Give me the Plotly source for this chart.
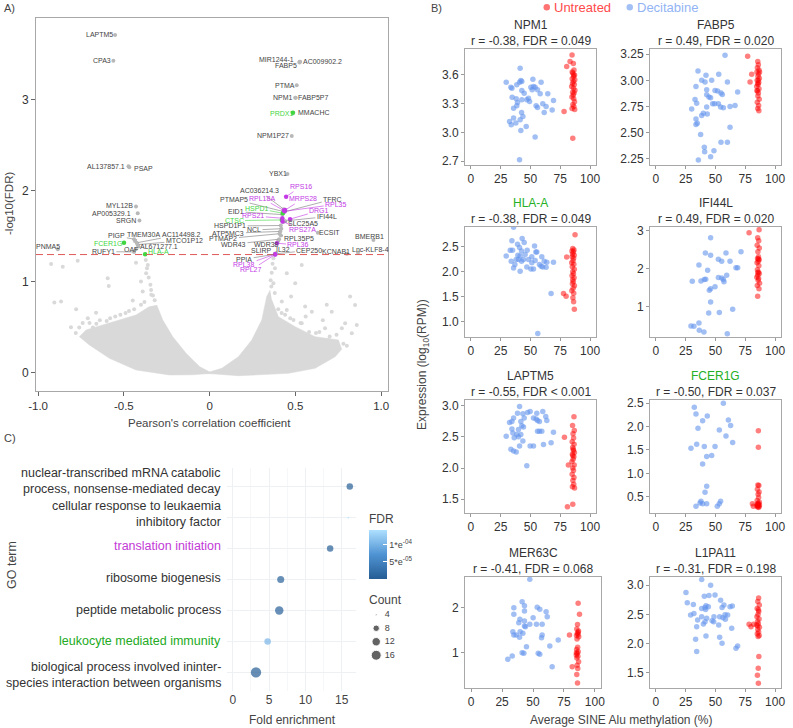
import plotly.graph_objects as go

FONT = "Liberation Sans, Arial, sans-serif"
W, H = 793, 728


def fx(X):
    return X / W


def fy(Y):
    return 1 - Y / H


# ============ Panel A data (volcano) ============
# outline of the dense part of the point cloud
A_LEFT_LOBE_R = [-0.308, -0.273, -0.215, -0.137, -0.059, 0.015, -0.10, -0.234, -0.429, -0.584, -0.701, -0.759,
                 -0.72, -0.623, -0.526, -0.429, -0.351]
A_LEFT_LOBE_Y = [0.747, 0.582, 0.399, 0.216, 0.07, -0.004, -0.02, -0.022, 0.033, 0.161, 0.308, 0.399,
                 0.473, 0.527, 0.582, 0.637, 0.729]
A_RIGHT_LOBE_R = [0.353, 0.333, 0.304, 0.246, 0.168, 0.071, -0.026, 0.168, 0.46, 0.615, 0.732, 0.77,
                  0.751, 0.615, 0.499, 0.401, 0.363]
A_RIGHT_LOBE_Y = [0.912, 0.839, 0.582, 0.363, 0.179, 0.051, -0.004, -0.03, -0.004, 0.051, 0.179, 0.26,
                  0.363, 0.399, 0.509, 0.619, 0.802]
# sparse individual points
A_SCAT_R = [-0.924, -0.856, -0.769, -0.905, -0.866, -0.778, -0.808, -0.662, -0.71, -0.594, -0.588, -0.448,
            -0.37, -0.40, -0.341, -0.39, -0.429, -0.36, -0.565, -0.506, -0.623, -0.33, -0.345, -0.355,
            -0.365, -0.372, -0.74, -0.68, -0.55, -0.47, -0.40, -0.32, -0.78, -0.76, -0.70, -0.64, -0.60,
            -0.52, -0.49, -0.44, -0.38, -0.34, -0.66, -0.58,
            0.537, 0.45, 0.499, 0.372, 0.381, 0.475, 0.421, 0.557, 0.683, 0.819, 0.848, 0.712, 0.596, 0.79,
            0.858, 0.771, 0.673, 0.537, 0.489, 0.829, 0.45, 0.356, 0.362, 0.367, 0.372, 0.36, 0.40, 0.44,
            0.58, 0.70, 0.66, 0.56, 0.78, 0.74, 0.64, 0.53, 0.47, 0.42, 0.38, 0.62, 0.69, 0.80]
A_SCAT_Y = [1.198, 1.168, 1.234, 0.773, 0.784, 0.70, 0.502, 0.663, 0.601, 1.04, 0.956, 0.795,
            1.095, 1.004, 0.912, 0.894, 1.212, 1.187, 0.509, 0.564, 0.418, 0.85, 0.97, 1.05,
            1.15, 1.24, 0.55, 0.50, 0.62, 0.68, 0.75, 0.80, 0.44, 0.50, 0.55, 0.58, 0.57,
            0.64, 0.66, 0.70, 0.78, 0.86, 0.54, 0.60,
            1.187, 1.095, 0.985, 0.985, 1.15, 0.839, 0.784, 0.729, 0.75, 0.839, 0.747, 0.674, 0.674, 0.546,
            0.527, 0.491, 0.491, 0.546, 0.582, 0.436, 0.692, 1.02, 1.1, 1.2, 1.26, 0.95, 0.70, 0.64,
            0.45, 0.40, 0.58, 0.62, 0.32, 0.42, 0.45, 0.55, 0.60, 0.66, 0.88, 0.44, 0.36, 0.30]

A_GENES = ["LAPTM5", "CPA3", "MIR1244-1", "FABP5", "AC009902.2", "PTMA", "NPM1", "FABP5P7", "PRDX1", "MMACHC",
           "NPM1P27", "AL137857.1", "PSAP", "YBX1", "MYL12B", "AP005329.1", "SRGN", "PIGP", "FCER1G", "TMEM30A",
           "AC114498.2", "MTCO1P12", "AL671277.1", "OAF", "RUFY1", "HLA-A", "PNMA5",
           "RPS16", "AC036214.3", "RPL18A", "PTMAP5", "MRPS28", "TFRC", "RPL35", "HSPD1", "DRG1", "EID1",
           "RPS21", "IFI44L", "CTSC", "SLC25A5", "HSPD1P1", "NCL", "RPS27A", "ECSIT", "ATP5MC3", "RPL35P5",
           "PTMAP2", "WDR43", "WDR38", "RPL36", "BMERB1", "SLIRP", "IL32", "CEP250", "KCNAB1", "Lnc-KLF8-4",
           "PPIA", "RPL38", "RPL27"]
A_R = [-0.551, -0.561, 0.524, 0.524, 0.528, 0.508, 0.499, 0.502, 0.485, 0.488,
       0.479, -0.473, -0.468, 0.454, -0.429, -0.419, -0.409, -0.44, -0.499, -0.435,
       -0.425, -0.42, -0.415, -0.43, -0.44, -0.376, -0.885,
       0.446, 0.432, 0.434, 0.428, 0.44, 0.436, 0.438, 0.427, 0.469, 0.424,
       0.424, 0.44, 0.421, 0.43, 0.415, 0.418, 0.425, 0.631, 0.412, 0.415,
       0.408, 0.405, 0.40, 0.392, 0.955, 0.384, 0.386, 0.39, 0.80, 0.865,
       0.382, 0.382, 0.382]
A_LOGFDR = [3.714, 3.43, 3.42, 3.41, 3.42, 3.16, 3.025, 3.025, 2.86, 2.86,
            2.604, 2.27, 2.26, 2.187, 1.828, 1.755, 1.674, 1.47, 1.432, 1.45,
            1.43, 1.41, 1.39, 1.36, 1.33, 1.304, 1.36,
            1.937, 1.80, 1.784, 1.775, 1.79, 1.77, 1.776, 1.755, 1.69, 1.74,
            1.70, 1.67, 1.681, 1.66, 1.62, 1.585, 1.665, 1.542, 1.555, 1.51,
            1.53, 1.47, 1.45, 1.425, 1.46, 1.31, 1.315, 1.31, 1.31, 1.32,
            1.305, 1.304, 1.302]
# T = translation initiation genes, I = leukocyte immunity genes, O = other
A_GROUP = ["O", "O", "O", "O", "O", "O", "O", "O", "I", "O",
           "O", "O", "O", "O", "O", "O", "O", "O", "I", "O",
           "O", "O", "O", "O", "O", "I", "O",
           "T", "O", "T", "O", "T", "O", "T", "I", "T", "O",
           "T", "O", "I", "O", "O", "O", "T", "O", "O", "O",
           "O", "O", "O", "T", "O", "O", "O", "O", "O", "O",
           "O", "T", "T"]
A_SIG_LINE = 1.301  # -log10(0.05)

# label placement (layout, not data): label centre and whether a connector is drawn
A_LABEL_POS = [(-0.643, 3.714, 0), (-0.629, 3.43, 0), (0.388, 3.447, 0), (0.446, 3.374, 0), (0.66, 3.42, 0),
               (0.44, 3.16, 0), (0.427, 3.025, 0), (0.602, 3.025, 0), (0.421, 2.853, 0), (0.609, 2.86, 0),
               (0.372, 2.604, 0), (-0.603, 2.267, 0), (-0.386, 2.242, 0), (0.401, 2.187, 0), (-0.526, 1.839, 0),
               (-0.57, 1.755, 0), (-0.487, 1.674, 0), (-0.541, 1.505, 1), (-0.59, 1.425, 0), (-0.386, 1.524, 1),
               (-0.162, 1.524, 1), (-0.147, 1.454, 1), (-0.293, 1.388, 1), (-0.459, 1.359, 1), (-0.619, 1.333, 1),
               (-0.299, 1.333, 0), (-0.94, 1.395, 0),
               (0.532, 2.047, 1), (0.29, 2.0, 1), (0.304, 1.92, 1), (0.143, 1.909, 1), (0.543, 1.912, 1),
               (0.718, 1.909, 1), (0.738, 1.854, 1), (0.275, 1.81, 1), (0.64, 1.784, 1), (0.155, 1.773, 1),
               (0.255, 1.725, 1), (0.683, 1.718, 1), (0.143, 1.674, 1), (0.547, 1.645, 1), (0.12, 1.615, 1),
               (0.259, 1.571, 1), (0.543, 1.571, 1), (0.699, 1.542, 0), (0.11, 1.535, 1), (0.524, 1.48, 1),
               (0.081, 1.473, 1), (0.139, 1.414, 1), (0.329, 1.414, 1), (0.518, 1.407, 1), (0.932, 1.498, 0),
               (0.304, 1.341, 1), (0.427, 1.352, 1), (0.582, 1.348, 1), (0.738, 1.333, 1), (0.936, 1.352, 0),
               (0.201, 1.249, 1), (0.201, 1.187, 1), (0.242, 1.132, 1)]

# ============ Panel B data ============
NPM1_DEC_X = [29.6, 33.5, 34.4, 40.8, 41.9, 42.7, 41.3, 52.0, 53.9, 55.9, 50.3, 58.9, 34.6, 38.0, 38.5, 35.8, 39.1,
              42.7, 44.7, 46.9, 49.2, 54.7, 55.9, 60.3, 61.5, 63.1, 64.5, 68.2, 69.3, 58.1, 42.5, 43.6, 41.3, 35.8,
              32.4, 33.8, 37.7, 41.9, 46.4, 53.9, 40.8, 48.3, 51.4, 42.7, 38.5, 52.5]
NPM1_DEC_Y = [3.524, 3.472, 3.461, 3.524, 3.541, 3.531, 3.669, 3.555, 3.472, 3.444, 3.472, 3.524, 3.367, 3.35, 3.277,
              3.253, 3.312, 3.34, 3.409, 3.34, 3.322, 3.277, 3.26, 3.298, 3.208, 3.27, 3.402, 3.235, 3.333, 3.402,
              3.208, 3.166, 3.131, 3.149, 3.114, 3.079, 3.097, 3.02, 3.062, 2.951, 2.715, 3.357, 3.444, 3.437,
              3.496, 3.478]
NPM1_UNT_X = [84.9, 83.2, 80.4, 86.0, 86.5, 85.5, 87.0, 86.2, 85.0, 87.2, 86.0, 85.3, 86.8, 84.6, 86.1, 87.3, 85.4,
              86.6, 85.9, 84.8, 86.3, 87.0, 85.6, 86.4, 84.9, 87.1, 78.2, 85.5, 86.2, 85.0]
NPM1_UNT_Y = [3.808, 3.739, 3.687, 3.72, 3.65, 3.62, 3.60, 3.58, 3.56, 3.55, 3.53, 3.51, 3.50, 3.48, 3.46, 3.44, 3.42,
              3.41, 3.39, 3.37, 3.35, 3.32, 3.29, 3.27, 3.25, 3.24, 3.218, 2.94, 3.60, 3.63]

FABP5_DEC_X = [58.0, 35.3, 42.0, 38.4, 33.6, 46.8, 52.7, 60.0, 41.2, 42.6, 49.6, 51.8, 54.6, 55.7, 68.6, 42.6, 45.9,
               32.8, 34.2, 30.0, 42.6, 52.4, 54.3, 56.6, 62.2, 66.4, 47.6, 49.3, 39.8, 38.4, 43.1, 33.6, 33.6, 34.7,
               62.2, 37.5, 54.6, 60.0, 40.6, 40.9, 48.7, 45.9, 35.6, 44.5]
FABP5_DEC_Y = [3.24, 3.09, 3.048, 3.0, 2.942, 3.0, 3.058, 2.984, 2.984, 2.91, 2.904, 2.897, 2.878, 2.865, 2.888, 2.862,
               2.833, 2.817, 2.782, 2.727, 2.744, 2.776, 2.744, 2.737, 2.75, 2.76, 2.776, 2.776, 2.686, 2.663, 2.679,
               2.631, 2.577, 2.59, 2.551, 2.481, 2.407, 2.407, 2.359, 2.317, 2.327, 2.269, 2.237, 2.84]
FABP5_UNT_X = [85.5, 86.0, 85.2, 86.5, 84.8, 86.2, 85.6, 86.8, 85.0, 86.3, 85.8, 84.6, 86.5, 85.3, 86.0, 85.6, 86.7,
               85.1, 86.2, 85.5, 86.4, 84.8, 87.0, 77.0, 80.4, 79.0, 86.0, 85.4]
FABP5_UNT_Y = [3.18, 3.15, 3.12, 3.10, 3.08, 3.06, 3.04, 3.02, 3.00, 2.98, 2.96, 2.94, 2.92, 2.90, 2.88, 2.85, 2.82,
               2.79, 2.76, 2.73, 2.71, 2.90, 3.08, 3.23, 3.058, 2.984, 3.00, 2.97]

HLAA_DEC_X = [35.8, 34.4, 29.6, 33.0, 34.9, 39.1, 40.8, 43.0, 44.7, 42.5, 47.2, 53.4, 54.5, 55.3, 41.3, 40.0, 36.9,
              42.5, 44.1, 48.3, 51.1, 51.1, 53.9, 59.5, 61.5, 63.7, 69.3, 33.8, 35.8, 41.3, 50.3, 52.5, 57.5, 58.9,
              63.1, 60.3, 46.9, 38.0, 39.4, 67.3, 56.1, 45.5]
HLAA_DEC_Y = [2.895, 2.623, 2.316, 2.432, 2.432, 2.555, 2.486, 2.67, 2.589, 2.418, 2.432, 2.52, 2.398, 2.398, 2.316,
              2.248, 2.145, 2.214, 2.248, 2.248, 2.302, 2.18, 2.227, 2.302, 2.214, 2.193, 2.193, 2.214, 2.077, 2.009,
              2.057, 2.057, 2.145, 2.111, 2.091, 2.098, 2.098, 2.248, 2.33, 1.566, 0.762, 2.35]
HLAA_UNT_X = [85.5, 86.5, 84.8, 86.0, 85.3, 86.7, 85.0, 86.2, 85.7, 84.6, 86.4, 85.1, 86.8, 85.5, 86.1, 84.9, 86.6,
              85.4, 86.0, 85.2, 86.9, 85.8, 84.7, 86.3, 85.6, 86.2, 86.8, 87.4, 80.4, 77.7, 79.9]
HLAA_UNT_Y = [2.47, 2.44, 2.42, 2.40, 2.36, 2.33, 2.30, 2.27, 2.22, 2.18, 2.15, 2.10, 2.05, 2.00, 1.96, 1.92, 1.88,
              1.84, 1.80, 1.76, 1.72, 1.67, 1.62, 1.57, 1.48, 1.40, 1.25, 2.745, 2.296, 1.566, 1.511]

IFI44L_DEC_X = [45.9, 41.5, 45.9, 71.4, 58.8, 52.4, 55.2, 62.2, 36.1, 43.4, 67.2, 68.6, 41.8, 40.6, 37.8, 30.5, 52.4,
                55.2, 56.6, 57.1, 59.4, 49.6, 45.9, 44.8, 45.9, 44.3, 53.2, 64.4, 31.9, 36.1, 36.4, 40.3, 59.9, 29.4]
IFI44L_DEC_Y = [2.82, 2.42, 2.36, 2.45, 2.42, 2.25, 2.20, 2.20, 2.10, 1.965, 2.03, 2.03, 1.73, 1.72, 1.68, 1.675, 1.77,
                1.76, 1.72, 1.66, 1.83, 1.53, 1.48, 1.44, 1.13, 0.842, 0.851, 0.939, 0.491, 0.579, 0.386, 0.342,
                0.298, 0.50]
IFI44L_UNT_X = [86.6, 85.4, 86.3, 85.0, 86.8, 85.6, 86.1, 85.3, 86.7, 85.9, 84.9, 86.4, 85.2, 86.0, 86.8, 85.5, 84.7,
                86.2, 85.8, 87.0, 85.1, 86.5, 85.4, 78.2, 86.0, 85.6]
IFI44L_UNT_Y = [3.03, 2.82, 2.74, 2.62, 2.55, 2.45, 2.32, 2.27, 2.24, 2.20, 2.16, 2.08, 1.98, 1.92, 1.88, 1.83, 1.78,
                1.75, 1.70, 1.62, 1.56, 1.48, 1.28, 2.95, 2.26, 1.90]

LAPTM5_DEC_X = [40.8, 29.6, 32.4, 34.4, 35.8, 34.4, 35.2, 38.5, 39.9, 36.3, 33.5, 35.8, 38.0, 40.8, 43.6, 39.1, 43.6,
                44.7, 41.9, 42.7, 44.1, 47.5, 49.7, 52.5, 54.7, 55.9, 60.3, 55.3, 62.8, 63.7, 55.9, 57.5, 59.5, 69.3,
                60.9, 67.3, 49.7, 52.5, 46.9, 39.9, 41.9, 57.5]
LAPTM5_DEC_Y = [2.984, 2.51, 2.73, 2.747, 2.80, 2.626, 2.563, 2.537, 2.50, 2.484, 2.30, 2.274, 2.258, 2.353, 2.432,
                2.879, 2.868, 2.80, 2.747, 2.679, 2.658, 2.889, 2.905, 2.80, 2.784, 2.763, 2.905, 2.879, 2.826,
                2.763, 2.589, 2.589, 2.589, 2.574, 2.379, 2.405, 2.353, 2.353, 2.037, 2.616, 2.537, 2.747]
LAPTM5_UNT_X = [86.5, 85.3, 86.8, 85.7, 86.2, 85.0, 86.6, 85.4, 86.0, 86.9, 85.2, 86.4, 85.8, 84.8, 86.7, 85.5, 86.1,
                85.0, 86.5, 85.6, 86.3, 85.2, 87.0, 86.0, 85.5, 78.5, 81.8, 81.0, 85.5]
LAPTM5_UNT_Y = [2.82, 2.68, 2.60, 2.55, 2.48, 2.42, 2.38, 2.33, 2.28, 2.25, 2.22, 2.18, 2.14, 2.10, 2.05, 2.00, 1.96,
                1.90, 1.85, 1.80, 1.74, 1.70, 1.68, 2.30, 2.20, 2.495, 2.047, 1.379, 1.42]

FCER1G_DEC_X = [32.2, 33.6, 56.6, 39.2, 43.1, 35.3, 53.2, 60.8, 62.7, 58.8, 64.4, 29.4, 34.2, 40.6, 49.6, 42.6, 46.8,
                39.2, 42.6, 41.2, 37.8, 39.2, 42.6, 33.6, 53.2, 54.3, 51.5, 37.0]
FCER1G_DEC_Y = [2.415, 2.272, 2.50, 2.123, 2.23, 1.966, 1.93, 2.144, 2.023, 1.80, 1.66, 1.539, 1.625, 1.575, 1.575,
                1.361, 1.383, 1.197, 0.721, 0.593, 0.40, 0.35, 0.35, 0.294, 0.35, 0.40, 0.294, 0.365]
FCER1G_UNT_X = [86.0, 86.0, 85.6, 86.4, 85.2, 86.6, 85.8, 86.2, 85.0, 86.8, 85.4, 86.1, 85.7, 84.8, 86.5, 85.3, 86.9,
                81.0, 81.8, 85.9, 86.3, 85.1]
FCER1G_UNT_Y = [1.909, 1.56, 0.75, 0.74, 0.66, 0.60, 0.55, 0.48, 0.42, 0.38, 0.35, 0.33, 0.31, 0.30, 0.29, 0.28, 0.32,
                0.35, 0.294, 0.36, 0.27, 0.32]

MER63C_DEC_X = [47.4, 41.2, 34.5, 43.1, 43.1, 34.5, 39.4, 43.1, 50.1, 53.4, 55.5, 60.6, 61.5, 47.4, 52.8, 57.4, 38.5,
                43.1, 43.9, 33.7, 36.4, 39.6, 41.8, 39.1, 57.4, 56.9, 70.4, 63.6, 44.7, 41.2, 42.6, 54.2, 55.5, 33.2,
                29.6, 65.5, 34.5]
MER63C_DEC_Y = [2.618, 2.125, 1.993, 2.037, 1.919, 1.846, 1.735, 1.699, 1.772, 2.0, 1.956, 1.904, 1.794, 1.625, 1.625,
                1.625, 1.662, 1.588, 1.574, 1.463, 1.39, 1.463, 1.426, 1.338, 1.39, 1.331, 1.279, 1.147, 1.132, 1.0,
                0.985, 0.985, 0.963, 0.926, 0.853, 0.691, 1.39]
MER63C_UNT_X = [86.5, 87.6, 79.5, 81.7, 86.0, 85.4, 86.8, 85.9, 86.4, 85.2, 87.0, 85.6, 86.1, 85.3, 86.6, 85.8, 85.0,
                86.3, 85.5, 86.9, 85.7, 86.2, 85.4, 86.0, 86.5, 85.1]
MER63C_UNT_Y = [2.088, 1.846, 1.39, 0.691, 1.62, 1.52, 1.48, 1.43, 1.40, 1.38, 1.35, 1.30, 1.12, 1.07, 1.02, 0.98,
                0.95, 0.92, 0.88, 0.80, 0.72, 0.65, 0.52, 0.33, 1.45, 1.00]

L1PA11_DEC_X = [38.4, 45.9, 25.2, 26.3, 29.1, 31.9, 31.4, 38.4, 40.6, 44.5, 42.0, 41.2, 41.7, 49.6, 54.3, 55.5, 57.1,
                58.0, 62.2, 64.1, 38.4, 35.0, 39.8, 42.6, 41.2, 47.1, 48.5, 52.7, 53.5, 56.3, 58.3, 60.2, 63.6, 34.2,
                42.0, 33.3, 53.5, 55.5, 67.2, 68.6, 34.2, 44.0, 48.7]
L1PA11_DEC_Y = [3.097, 3.0, 2.875, 2.70, 2.489, 2.517, 2.67, 2.602, 2.812, 2.824, 2.648, 2.619, 2.585, 2.83, 2.744,
                2.619, 2.659, 2.494, 2.631, 2.642, 2.46, 2.403, 2.335, 2.432, 2.375, 2.392, 2.375, 2.318, 2.46, 2.443,
                2.415, 2.489, 2.261, 2.29, 2.131, 2.074, 2.108, 2.006, 1.92, 1.96, 1.864, 2.63, 2.46]
L1PA11_UNT_X = [86.2, 85.5, 86.8, 85.0, 86.3, 85.7, 84.8, 86.6, 85.3, 86.0, 84.6, 86.9, 85.5, 86.2, 85.1, 86.7, 85.8,
                86.4, 85.9, 85.2, 86.0, 78.2, 79.8, 82.0, 86.1, 85.4]
L1PA11_UNT_Y = [2.78, 2.72, 2.66, 2.60, 2.55, 2.50, 2.46, 2.42, 2.38, 2.34, 2.32, 2.28, 2.24, 2.20, 2.17, 2.14, 2.12,
                1.78, 1.58, 1.46, 1.32, 2.33, 2.29, 2.33, 2.58, 2.30]

B_GENES = ["NPM1", "FABP5", "HLA-A", "IFI44L", "LAPTM5", "FCER1G", "MER63C", "L1PA11"]
B_STATS = ["r = -0.38, FDR = 0.049", "r = 0.49, FDR = 0.020", "r = -0.38, FDR = 0.049", "r = 0.49, FDR = 0.020",
           "r = -0.55, FDR < 0.001", "r = -0.50, FDR = 0.037", "r = -0.41, FDR = 0.068", "r = -0.31, FDR = 0.198"]
B_DEC = [(NPM1_DEC_X, NPM1_DEC_Y), (FABP5_DEC_X, FABP5_DEC_Y), (HLAA_DEC_X, HLAA_DEC_Y),
         (IFI44L_DEC_X, IFI44L_DEC_Y), (LAPTM5_DEC_X, LAPTM5_DEC_Y), (FCER1G_DEC_X, FCER1G_DEC_Y),
         (MER63C_DEC_X, MER63C_DEC_Y), (L1PA11_DEC_X, L1PA11_DEC_Y)]
B_UNT = [(NPM1_UNT_X, NPM1_UNT_Y), (FABP5_UNT_X, FABP5_UNT_Y), (HLAA_UNT_X, HLAA_UNT_Y),
         (IFI44L_UNT_X, IFI44L_UNT_Y), (LAPTM5_UNT_X, LAPTM5_UNT_Y), (FCER1G_UNT_X, FCER1G_UNT_Y),
         (MER63C_UNT_X, MER63C_UNT_Y), (L1PA11_UNT_X, L1PA11_UNT_Y)]
B_YTICKS = [[2.7, 3.0, 3.3, 3.6], [2.25, 2.5, 2.75, 3.0, 3.25], [1.0, 1.5, 2.0, 2.5], [1, 2, 3],
            [1.5, 2.0, 2.5, 3.0], [0.5, 1.0, 1.5, 2.0, 2.5], [1, 2], [1.5, 2.0, 2.5, 3.0]]
B_XTICKS = [0, 25, 50, 75, 100]

# ============ Panel C data (GO enrichment) ============
C_TERMS = ["nuclear-transcribed mRNA catabolic<br>process, nonsense-mediated decay",
           "cellular response to leukaemia<br>inhibitory factor",
           "translation initiation",
           "ribosome biogenesis",
           "peptide metabolic process",
           "leukocyte mediated immunity",
           "biological process involved ininter-<br>species interaction between organisms"]
C_FOLD = [16.1, 15.9, 13.4, 6.6, 6.4, 4.8, 3.2]
C_COUNT = [8, 4, 8, 9, 12, 8, 17]
C_FDR = [3e-6, 1.45e-4, 2e-6, 8e-6, 5e-6, 1.05e-4, 1e-6]
C_COUNT_BREAKS = [4, 8, 12, 16]
C_FDR_TICKS = [5e-5, 1e-4]
C_FDR_TICKTEXT = ["5*e<sup>-05</sup>", "1*e<sup>-04</sup>"]
C_XTICKS = [0, 5, 10, 15]

# ============ styles ============
GRAY_TXT = "#444444"
MAGENTA = "#c43be6"
GREEN = "#3fd63f"
GREEN_DARK = "#25b025"
CLOUD = "#d9d9d9"
BLUE_PT = "rgba(100,149,237,0.6)"
RED_PT = "rgba(255,0,0,0.5)"
GROUP_COLOR = {"O": "#b8b8b8", "T": MAGENTA, "I": GREEN}
LABEL_COLOR = {"O": GRAY_TXT, "T": MAGENTA, "I": GREEN}
C_LABEL_SHIFT = [6, 4, 3, 2, 0, 0, -3]

fig = go.Figure()
annotations = []
shapes = []
layout = {}


def paper_text(X, Y, text, size, color="#444444", xanchor="center", angle=0):
    annotations.append(dict(x=fx(X), y=fy(Y), xref="paper", yref="paper", text=text, showarrow=False,
                            xanchor=xanchor, yanchor="middle", textangle=angle,
                            font=dict(family=FONT, size=size, color=color)))


# ---------------- Panel A ----------------
A_XR = [-1.012, 1.04]
A_YR = [-0.198, 3.90]
fig.add_trace(go.Scatter(x=A_LEFT_LOBE_R, y=A_LEFT_LOBE_Y, fill="toself", fillcolor=CLOUD, mode="lines",
                         line=dict(width=0.5, color=CLOUD), xaxis="x", yaxis="y", hoverinfo="skip"))
fig.add_trace(go.Scatter(x=A_RIGHT_LOBE_R, y=A_RIGHT_LOBE_Y, fill="toself", fillcolor=CLOUD, mode="lines",
                         line=dict(width=0.5, color=CLOUD), xaxis="x", yaxis="y", hoverinfo="skip"))
fig.add_trace(go.Scatter(x=A_SCAT_R, y=A_SCAT_Y, mode="markers", marker=dict(size=4, color=CLOUD),
                         xaxis="x", yaxis="y", hoverinfo="skip"))
for grp in ["O", "I", "T"]:
    xs = [r for r, g in zip(A_R, A_GROUP) if g == grp]
    ys = [v for v, g in zip(A_LOGFDR, A_GROUP) if g == grp]
    fig.add_trace(go.Scatter(x=xs, y=ys, mode="markers",
                             marker=dict(size=4 if grp == "O" else 4.5, color=GROUP_COLOR[grp]),
                             xaxis="x", yaxis="y"))
for name, r, v, g, (lx, ly, seg) in zip(A_GENES, A_R, A_LOGFDR, A_GROUP, A_LABEL_POS):
    col = LABEL_COLOR[g]
    if seg:
        annotations.append(dict(x=r, y=v, xref="x", yref="y", ax=lx, ay=ly, axref="x", ayref="y", text=name,
                                showarrow=True, arrowhead=0, arrowwidth=0.6,
                                arrowcolor=("#777777" if g == "O" else col), standoff=1.5,
                                font=dict(size=7, color=col, family=FONT)))
    else:
        annotations.append(dict(x=lx, y=ly, xref="x", yref="y", text=name, showarrow=False,
                                xanchor="center", yanchor="middle",
                                font=dict(size=7, color=col, family=FONT)))
shapes.append(dict(type="line", xref="x", yref="y", x0=A_XR[0], x1=A_XR[1], y0=A_SIG_LINE, y1=A_SIG_LINE,
                   line=dict(color="#e05a5a", width=1, dash="7px,4px")))

axis_common = dict(showline=True, mirror=True, linecolor="#a8a8a8", linewidth=1, ticks="outside",
                   tickcolor="#666666", showgrid=False, zeroline=False, automargin=False,
                   tickfont=dict(family=FONT, color="#333333"))
layout["xaxis"] = dict(axis_common, domain=[fx(36), fx(388)], range=A_XR, anchor="y",
                       tickvals=[-1.0, -0.5, 0, 0.5, 1.0], ticktext=["-1.0", "-0.5", "0", "0.5", "1.0"],
                       ticklen=4, tickfont=dict(family=FONT, size=11.5, color="#333333"))
layout["yaxis"] = dict(axis_common, domain=[fy(391), fy(18)], range=A_YR, anchor="x",
                       tickvals=[0, 1, 2, 3], ticklen=4, tickfont=dict(family=FONT, size=12, color="#333333"))
paper_text(210, 423, "Pearson's correlation coefficient", 11.5)
paper_text(9, 204, "-log10(FDR)", 11.5, angle=-90)
paper_text(2, 8, "A)", 11, xanchor="left")

# ---------------- Panel B ----------------
ROW_TOP = [49, 227, 400, 577]
ROW_BOT = [165, 337, 513, 688]
COL_LEFT = [465, 650]
COL_RIGHT = [[596, 781], [596, 781], [596, 781], [601, 781]]
B_YRANGE = [[2.66, 3.87], [2.19, 3.30], [0.69, 2.90], [0.21, 3.10],
            [1.28, 3.09], [0.15, 2.57], [0.22, 2.67], [1.24, 3.14]]
B_TICKFMT = [".1f", ".2f", ".1f", "d", ".1f", ".1f", "d", ".1f"]
for i in range(8):
    row, col = divmod(i, 2)
    k = i + 2
    xa, ya = f"x{k}", f"y{k}"
    L, R = COL_LEFT[col], COL_RIGHT[row][col]
    T, B = ROW_TOP[row], ROW_BOT[row]
    dx, dy = B_DEC[i]
    ux, uy = B_UNT[i]
    fig.add_trace(go.Scatter(x=dx, y=dy, mode="markers", marker=dict(size=5.5, color=BLUE_PT),
                             xaxis=xa, yaxis=ya))
    fig.add_trace(go.Scatter(x=ux, y=uy, mode="markers", marker=dict(size=5.5, color=RED_PT),
                             xaxis=xa, yaxis=ya))
    layout[f"xaxis{k}"] = dict(axis_common, domain=[fx(L), fx(R)], range=[-5, 105], anchor=ya,
                               tickvals=B_XTICKS, ticklen=3, tickcolor="#999999",
                               tickfont=dict(family=FONT, size=12, color="#333333"))
    layout[f"yaxis{k}"] = dict(axis_common, domain=[fy(B), fy(T)], range=B_YRANGE[i], anchor=xa,
                               tickvals=B_YTICKS[i], tickformat=B_TICKFMT[i], ticklen=3, tickcolor="#999999",
                               tickfont=dict(family=FONT, size=12, color="#333333"))
    cx = (L + R) / 2
    gcol = GREEN_DARK if B_GENES[i] in ("HLA-A", "FCER1G") else "#333333"
    paper_text(cx, T - 24, B_GENES[i], 12, color=gcol)
    paper_text(cx, T - 8.5, B_STATS[i], 12, color="#333333")

paper_text(423, 365, "Expression (log<sub>10</sub>(RPM))", 12, angle=-90)
paper_text(621, 720, "Average SINE Alu methylation (%)", 12)
paper_text(429, 8, "B)", 11, xanchor="left")
# legend
shapes.append(dict(type="circle", xref="paper", yref="paper", x0=fx(543.5), x1=fx(550), y0=fy(10.5), y1=fy(4),
                   fillcolor="#ff7373", line=dict(width=0)))
paper_text(552, 7.5, "Untreated", 13, color="#ff4a4a", xanchor="left")
shapes.append(dict(type="circle", xref="paper", yref="paper", x0=fx(626.5), x1=fx(633), y0=fy(10.5), y1=fy(4),
                   fillcolor="#a3c0f5", line=dict(width=0)))
paper_text(635, 7.5, "Decitabine", 13, color="#92b4f4", xanchor="left")

# ---------------- Panel C ----------------
CMIN, CMAX = 4, 17


def count_size(c):
    frac = (c - CMIN) / (CMAX - CMIN)
    return 1.72 * (1 + 5 * frac ** 0.5)


C_POS = list(range(1, len(C_TERMS) + 1))
C_COLORSCALE = [[0, "#255d94"], [0.5, "#4f93d3"], [1, "#aee0ff"]]
fig.add_trace(go.Scatter(
    x=C_FOLD, y=C_POS, mode="markers", xaxis="x10", yaxis="y10",
    marker=dict(size=[count_size(c) for c in C_COUNT], color=C_FDR, colorscale=C_COLORSCALE,
                cmin=1e-6, cmax=1.45e-4, line=dict(width=0),
                colorbar=dict(x=fx(369), xanchor="left", y=fy(544.5), yanchor="middle", len=67.6 / H,
                              lenmode="fraction", thickness=18, thicknessmode="pixels", outlinewidth=0,
                              xpad=0, ypad=0, tickvals=C_FDR_TICKS, ticktext=C_FDR_TICKTEXT, ticks="inside",
                              tickcolor="white", ticklen=4,
                              tickfont=dict(family=FONT, size=9, color="#444444"),
                              title=dict(text="FDR", side="top", font=dict(family=FONT, size=12, color="#444444"))))))
layout["xaxis10"] = dict(domain=[fx(226.9), fx(355.6)], range=[-0.8, 16.9], anchor="y10", showline=False,
                         zeroline=False, showgrid=True, gridcolor="#eef1f4", gridwidth=0.8, tickvals=C_XTICKS,
                         ticks="", automargin=False, minor=dict(showgrid=True, gridcolor="#f5f7f9", dtick=2.5, tick0=0),
                         tickfont=dict(family=FONT, size=12, color="#444444"))
layout["yaxis10"] = dict(domain=[fy(691), fy(468)], range=[7.6, 0.4], anchor="x10", showline=False,
                         zeroline=False, showgrid=True, gridcolor="#eef1f4", gridwidth=0.8, tickvals=C_POS,
                         showticklabels=False, ticks="", automargin=False)
for pos, term, shift in zip(C_POS, C_TERMS, C_LABEL_SHIFT):
    col = "#333333"
    if term == "translation initiation":
        col = "#c23ad6"
    elif term == "leukocyte mediated immunity":
        col = "#22aa22"
    annotations.append(dict(x=fx(223), y=pos, xref="paper", yref="y10", text=term, xanchor="right",
                            yanchor="middle", yshift=shift, align="right", showarrow=False,
                            font=dict(family=FONT, size=12.5, color=col)))
paper_text(292, 720, "Fold enrichment", 12)
paper_text(12, 565, "GO term", 12.5, angle=-90)
paper_text(2, 438, "C)", 11, xanchor="left")
# count size legend
fig.add_trace(go.Scatter(x=[0.3] * 4, y=[4, 3, 2, 1], mode="markers", xaxis="x11", yaxis="y11",
                         marker=dict(size=[count_size(c) for c in C_COUNT_BREAKS], color="#222222")))
fig.add_trace(go.Scatter(x=[0.55] * 4, y=[4, 3, 2, 1], mode="text", xaxis="x11", yaxis="y11",
                         text=[str(c) for c in C_COUNT_BREAKS], textposition="middle right",
                         textfont=dict(family=FONT, size=9, color="#444444")))
layout["xaxis11"] = dict(domain=[fx(366), fx(400)], range=[0, 1], anchor="y11", visible=False, automargin=False)
layout["yaxis11"] = dict(domain=[fy(662), fy(608)], range=[0.5, 4.5], anchor="x11", visible=False, automargin=False)
paper_text(367, 600, "Count", 12, xanchor="left")

fig.update_layout(width=W, height=H, margin=dict(l=0, r=0, t=0, b=0), showlegend=False,
                  paper_bgcolor="white", plot_bgcolor="white", font=dict(family=FONT),
                  annotations=annotations, shapes=shapes, **layout)
fig.write_html("out.html", config={"displayModeBar": False},
               post_script="document.body.style.margin='0px';document.body.style.padding='0px';")
